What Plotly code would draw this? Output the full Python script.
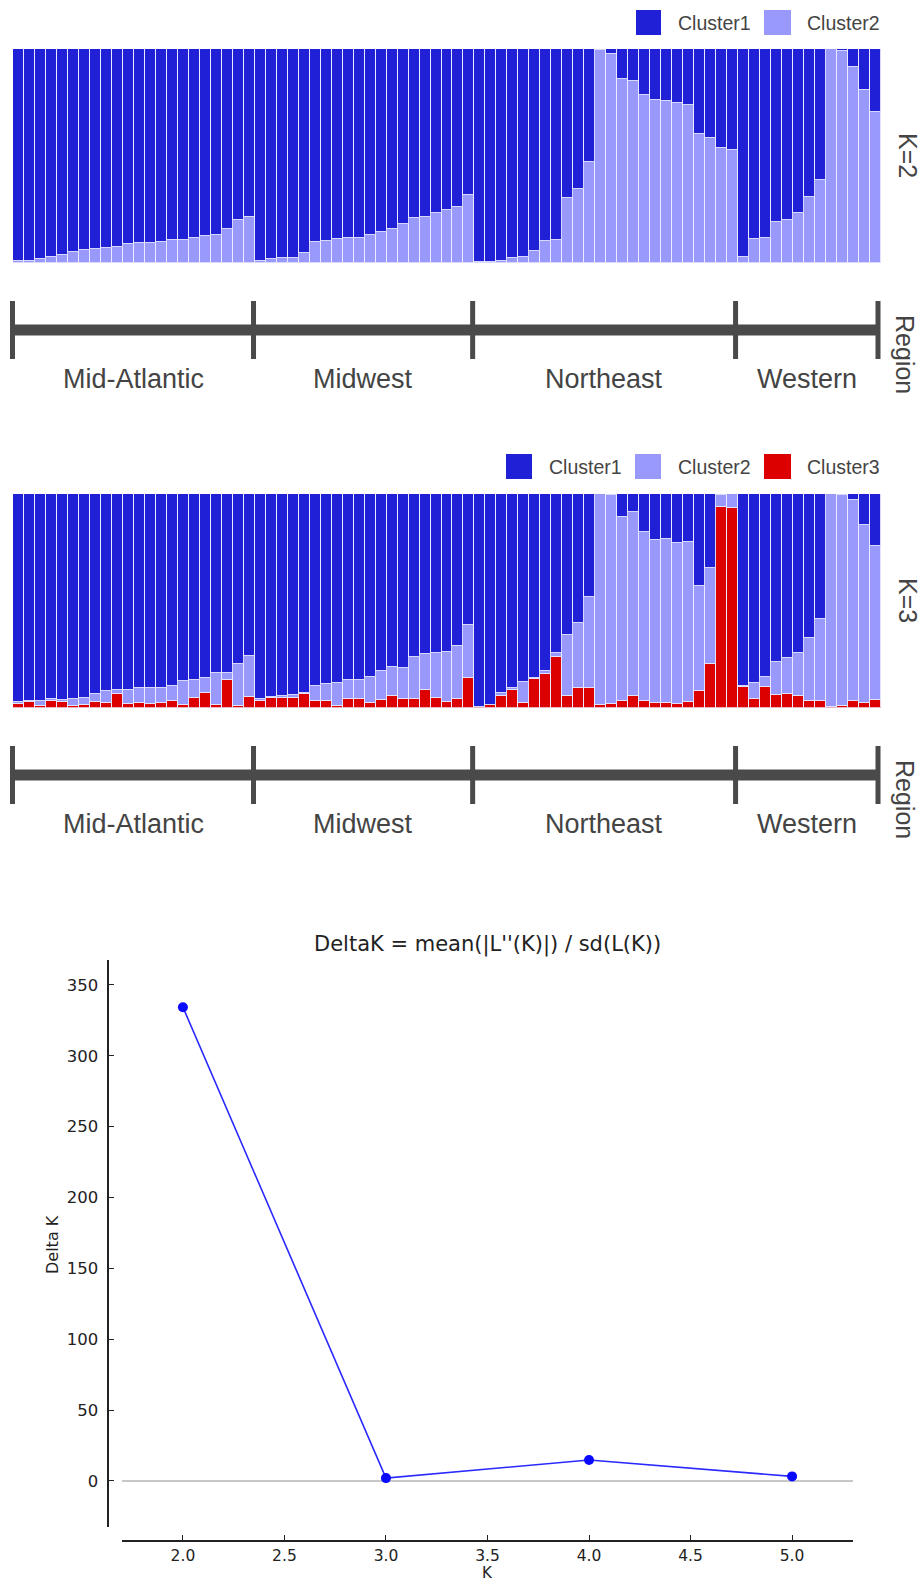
import plotly.graph_objects as go

W, H = 921, 1583

# ---------------- data ----------------
region_names = ["Mid-Atlantic", "Midwest", "Northeast", "Western"]
region_sizes = [22, 20, 24, 13]

k2_cluster1 = [0.990, 0.990, 0.984, 0.973, 0.964, 0.952, 0.941, 0.936, 0.933, 0.928,
               0.911, 0.906, 0.906, 0.902, 0.892, 0.892, 0.885, 0.875, 0.871, 0.844,
               0.800, 0.785, 0.991, 0.984, 0.978, 0.978, 0.954, 0.903, 0.899, 0.889,
               0.885, 0.885, 0.871, 0.855, 0.844, 0.817, 0.793, 0.788, 0.769, 0.754,
               0.740, 0.683, 0.995, 0.995, 0.991, 0.978, 0.973, 0.947, 0.899, 0.892,
               0.699, 0.655, 0.530, 0.004, 0.023, 0.142, 0.150, 0.215, 0.240, 0.243,
               0.254, 0.262, 0.398, 0.418, 0.462, 0.474, 0.975, 0.891, 0.883, 0.808,
               0.799, 0.766, 0.691, 0.613, 0.000, 0.008, 0.083, 0.192, 0.293]
k2_cluster2 = [0.010, 0.010, 0.016, 0.027, 0.036, 0.048, 0.059, 0.064, 0.067, 0.072,
               0.089, 0.094, 0.094, 0.098, 0.108, 0.108, 0.115, 0.125, 0.129, 0.156,
               0.200, 0.215, 0.009, 0.016, 0.022, 0.022, 0.046, 0.097, 0.101, 0.111,
               0.115, 0.115, 0.129, 0.145, 0.156, 0.183, 0.207, 0.212, 0.231, 0.246,
               0.260, 0.317, 0.005, 0.005, 0.009, 0.022, 0.027, 0.053, 0.101, 0.108,
               0.301, 0.345, 0.470, 0.996, 0.977, 0.858, 0.850, 0.785, 0.760, 0.757,
               0.746, 0.738, 0.602, 0.582, 0.538, 0.526, 0.025, 0.109, 0.117, 0.192,
               0.201, 0.234, 0.309, 0.387, 1.000, 0.992, 0.917, 0.808, 0.707]

k3_cluster1 = [0.973, 0.969, 0.969, 0.961, 0.964, 0.958, 0.955, 0.936, 0.924, 0.919,
               0.919, 0.910, 0.908, 0.907, 0.898, 0.877, 0.870, 0.861, 0.838, 0.838,
               0.796, 0.759, 0.958, 0.950, 0.947, 0.939, 0.932, 0.897, 0.889, 0.885,
               0.871, 0.871, 0.855, 0.828, 0.810, 0.813, 0.761, 0.749, 0.744, 0.738,
               0.710, 0.612, 0.995, 0.989, 0.933, 0.907, 0.880, 0.861, 0.830, 0.742,
               0.660, 0.605, 0.482, 0.000, 0.005, 0.107, 0.083, 0.177, 0.216, 0.212,
               0.231, 0.226, 0.431, 0.348, 0.004, 0.000, 0.899, 0.886, 0.855, 0.785,
               0.769, 0.742, 0.672, 0.586, 0.000, 0.005, 0.027, 0.147, 0.243]
k3_cluster2 = [0.011, 0.006, 0.025, 0.006, 0.011, 0.036, 0.031, 0.037, 0.056, 0.019,
               0.064, 0.070, 0.073, 0.073, 0.069, 0.109, 0.086, 0.069, 0.148, 0.033,
               0.195, 0.193, 0.011, 0.006, 0.009, 0.017, 0.006, 0.070, 0.081, 0.106,
               0.090, 0.090, 0.125, 0.136, 0.134, 0.148, 0.200, 0.170, 0.209, 0.234,
               0.251, 0.248, 0.000, 0.000, 0.011, 0.009, 0.100, 0.006, 0.012, 0.019,
               0.285, 0.303, 0.426, 0.989, 0.978, 0.863, 0.861, 0.793, 0.764, 0.768,
               0.752, 0.747, 0.491, 0.449, 0.055, 0.067, 0.006, 0.075, 0.047, 0.156,
               0.165, 0.203, 0.298, 0.381, 0.997, 0.986, 0.940, 0.833, 0.721]
k3_cluster3 = [0.016, 0.025, 0.006, 0.033, 0.025, 0.006, 0.014, 0.027, 0.020, 0.062,
               0.017, 0.020, 0.019, 0.020, 0.033, 0.014, 0.044, 0.070, 0.014, 0.129,
               0.009, 0.048, 0.031, 0.044, 0.044, 0.044, 0.062, 0.033, 0.030, 0.009,
               0.039, 0.039, 0.020, 0.036, 0.056, 0.039, 0.039, 0.081, 0.047, 0.028,
               0.039, 0.140, 0.005, 0.011, 0.056, 0.084, 0.020, 0.133, 0.158, 0.239,
               0.055, 0.092, 0.092, 0.011, 0.017, 0.030, 0.056, 0.030, 0.020, 0.020,
               0.017, 0.027, 0.078, 0.203, 0.941, 0.933, 0.095, 0.039, 0.098, 0.059,
               0.066, 0.055, 0.030, 0.033, 0.003, 0.009, 0.033, 0.020, 0.036]

k_values = [2, 3, 4, 5]
delta_k = [334.3, 2.0, 14.8, 3.2]
k_ticks = [2.0, 2.5, 3.0, 3.5, 4.0, 4.5, 5.0]
dk_ticks = [0, 50, 100, 150, 200, 250, 300, 350]

# ---------------- styles ----------------
C1 = "#2020d6"
C2 = "#9999fc"
C3 = "#dd0000"
SEP = "rgba(235,235,255,0.9)"
TXT = "#444444"
SANS = "Liberation Sans, Arial, sans-serif"
DV = "DejaVu Sans, sans-serif"


def PX(p):
    return p / W


def PY(p):
    return 1 - p / H


n = len(k2_cluster1)
idx = list(range(n))

fig = go.Figure()


def bar(y, color, name, xa, ya):
    return go.Bar(x=idx, y=y, name=name, marker=dict(color=color, line=dict(color=SEP, width=1)),
                  xaxis=xa, yaxis=ya, showlegend=False)


# K=2 (bottom to top)
fig.add_trace(bar(k2_cluster2, C2, "Cluster2", "x", "y"))
fig.add_trace(bar(k2_cluster1, C1, "Cluster1", "x", "y"))
# K=3
fig.add_trace(bar(k3_cluster3, C3, "Cluster3", "x3", "y3"))
fig.add_trace(bar(k3_cluster2, C2, "Cluster2", "x3", "y3"))
fig.add_trace(bar(k3_cluster1, C1, "Cluster1", "x3", "y3"))

# region bars
bounds = [0]
for s in region_sizes:
    bounds.append(bounds[-1] + s)
mids = [(bounds[i] + bounds[i + 1]) / 2 for i in range(len(region_sizes))]

for xa, ya in (("x2", "y2"), ("x4", "y4")):
    fig.add_trace(go.Scatter(x=[bounds[0], bounds[-1]], y=[0, 0], mode="lines",
                             line=dict(color="#4a4a4a", width=11), xaxis=xa, yaxis=ya,
                             showlegend=False, hoverinfo="skip"))
    tx, ty = [], []
    for b in bounds:
        tx += [b, b, None]
        ty += [-1, 1, None]
    fig.add_trace(go.Scatter(x=tx, y=ty, mode="lines", line=dict(color="#4a4a4a", width=5),
                             xaxis=xa, yaxis=ya, showlegend=False, hoverinfo="skip"))

# DeltaK
fig.add_trace(go.Scatter(x=k_values, y=delta_k, mode="lines+markers",
                         line=dict(color="#2a2aff", width=1.6),
                         marker=dict(color="#0a0aff", size=10),
                         xaxis="x5", yaxis="y5", showlegend=False))

hidden = dict(visible=False, fixedrange=True)
bar_x_dom = [PX(13), PX(881)]
reg_x_dom = [PX(12.5 - 10.956 * 0.5), PX(878 + 10.956 * 0.5)]

fig.update_layout(
    width=W, height=H, margin=dict(l=0, r=0, t=0, b=0), autosize=False,
    paper_bgcolor="white", plot_bgcolor="white",
    barmode="stack", bargap=0,
    showlegend=False,
    xaxis=dict(domain=bar_x_dom, range=[-0.5, n - 0.5], anchor="y", **hidden),
    yaxis=dict(domain=[PY(262.7), PY(49)], range=[0, 1], anchor="x", **hidden),
    xaxis2=dict(domain=reg_x_dom, range=[-0.5, bounds[-1] + 0.5], anchor="y2", **hidden),
    yaxis2=dict(domain=[PY(361.9), PY(298.1)], range=[-1.1, 1.1], anchor="x2", **hidden),
    xaxis3=dict(domain=bar_x_dom, range=[-0.5, n - 0.5], anchor="y3", **hidden),
    yaxis3=dict(domain=[PY(707.7), PY(494)], range=[0, 1], anchor="x3", **hidden),
    xaxis4=dict(domain=reg_x_dom, range=[-0.5, bounds[-1] + 0.5], anchor="y4", **hidden),
    yaxis4=dict(domain=[PY(806.9), PY(743.1)], range=[-1.1, 1.1], anchor="x4", **hidden),
    xaxis5=dict(domain=[PX(122), PX(853)], range=[1.7, 5.3], anchor="free", position=PY(1541),
                showline=True, linecolor="#222222", linewidth=2, showgrid=False, zeroline=False,
                ticks="inside", ticklen=5, tickcolor="#222222", tickwidth=1,
                tickvals=k_ticks, ticktext=[f"{v:.1f}" for v in k_ticks],
                tickfont=dict(family=DV, size=15.5, color="#222222"), fixedrange=True),
    yaxis5=dict(domain=[PY(1527), PY(960)], range=[-32.5, 367.6], anchor="free", position=PX(107.5),
                showline=True, linecolor="#222222", linewidth=2, showgrid=False,
                zeroline=True, zerolinecolor="#c8c8c8", zerolinewidth=2,
                ticks="inside", ticklen=5, tickcolor="#222222", tickwidth=1,
                ticklabelstandoff=5,
                tickvals=dk_ticks, ticktext=[str(v) for v in dk_ticks],
                tickfont=dict(family=DV, size=16.5, color="#222222"), fixedrange=True),
)

ann = []
shapes = []

# region labels
for dy in (0, 445):
    for name, m in zip(region_names, mids):
        ann.append(dict(x=m, y=PY(379 + dy), xref="x2" if dy == 0 else "x4", yref="paper",
                        text=name, showarrow=False, xanchor="center", yanchor="middle",
                        font=dict(family=SANS, size=27, color=TXT)))
    ann.append(dict(x=PX(905), y=PY(354 + dy), xref="paper", yref="paper", text="Region",
                    showarrow=False, textangle=90, xanchor="center", yanchor="middle",
                    font=dict(family=SANS, size=25, color=TXT)))

ann.append(dict(x=PX(908), y=PY(155), xref="paper", yref="paper", text="K=2", showarrow=False,
                textangle=90, xanchor="center", yanchor="middle", font=dict(family=SANS, size=25, color=TXT)))
ann.append(dict(x=PX(908), y=PY(600), xref="paper", yref="paper", text="K=3", showarrow=False,
                textangle=90, xanchor="center", yanchor="middle", font=dict(family=SANS, size=25, color=TXT)))


# legends
def legend_item(x0, x1, y0, y1, tx, color, label):
    shapes.append(dict(type="rect", xref="paper", yref="paper", x0=PX(x0), x1=PX(x1),
                       y0=PY(y1), y1=PY(y0), fillcolor=color, line=dict(width=0)))
    ann.append(dict(x=PX(tx), y=PY((y0 + y1) / 2), xref="paper", yref="paper", text=label,
                    showarrow=False, xanchor="left", yanchor="middle",
                    font=dict(family=SANS, size=19.5, color=TXT)))


legend_item(636, 661, 10, 35, 676, C1, "Cluster1")
legend_item(764, 791, 10, 35, 805, C2, "Cluster2")
legend_item(506, 532, 454, 479, 547, C1, "Cluster1")
legend_item(635, 661, 454, 479, 676, C2, "Cluster2")
legend_item(764, 791, 454, 479, 805, C3, "Cluster3")

# DeltaK texts
ann.append(dict(x=PX(487), y=PY(944), xref="paper", yref="paper",
                text="DeltaK = mean(|L''(K)|) / sd(L(K))", showarrow=False,
                xanchor="center", yanchor="middle", font=dict(family=DV, size=21, color="#222222")))
ann.append(dict(x=PX(52), y=PY(1245), xref="paper", yref="paper", text="Delta K", showarrow=False,
                textangle=-90, xanchor="center", yanchor="middle", font=dict(family=DV, size=16, color="#222222")))
ann.append(dict(x=PX(487), y=PY(1573), xref="paper", yref="paper", text="K", showarrow=False,
                xanchor="center", yanchor="middle", borderpad=0,
                font=dict(family=DV, size=15, color="#222222")))

fig.update_layout(annotations=ann, shapes=shapes)

fig.write_html("out.html", config={"displayModeBar": False},
               post_script="document.body.style.margin='0px';document.body.style.overflow='hidden';")
